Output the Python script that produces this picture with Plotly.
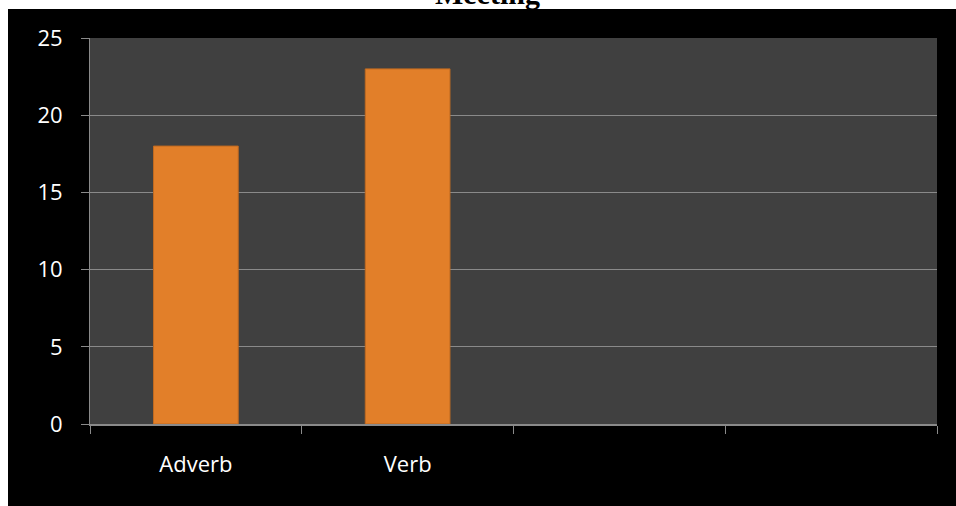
import plotly.graph_objects as go

# Chart data
categories = ["Adverb", "Verb", "", ""]
counts = [18, 23, None, None]
y_ticks = [0, 5, 10, 15, 20, 25]
title_text = "Meeting"

positions = list(range(len(categories)))
boundaries = [p - 0.5 for p in positions] + [positions[-1] + 0.5]

W, H = 956, 506
ML, MR, MT, MB = 90, 19, 38, 82
plot_w = W - ML - MR
plot_h = H - MT - MB


def px_to_paper_x(px):
    return (px - ML) / plot_w


def px_to_paper_y(py):
    return (H - MB - py) / plot_h


axis_grey = "#8a8a8a"
label_font = dict(family="Open Sans, Liberation Sans, sans-serif", size=22, color="white")

fig = go.Figure()
fig.add_trace(go.Bar(
    x=positions,
    y=counts,
    width=0.4,
    marker=dict(color="#E27F29", line=dict(color="#C06A20", width=1)),
    hoverinfo="skip",
))

# white margin strips along the left and top edges of the black canvas
white_strips = [
    dict(x0=px_to_paper_x(-2), x1=px_to_paper_x(8), y0=px_to_paper_y(H + 2), y1=px_to_paper_y(-2)),
    dict(x0=px_to_paper_x(-2), x1=px_to_paper_x(W + 2), y0=px_to_paper_y(9), y1=px_to_paper_y(-2)),
]
shapes = [dict(type="rect", xref="paper", yref="paper", layer="below",
               fillcolor="white", line=dict(width=0), **s) for s in white_strips]

fig.update_layout(
    width=W,
    height=H,
    margin=dict(l=ML, r=MR, t=MT, b=MB, pad=0),
    paper_bgcolor="black",
    plot_bgcolor="#404040",
    showlegend=False,
    xaxis=dict(
        range=[boundaries[0], boundaries[-1]],
        tickmode="array",
        tickvals=positions,
        ticktext=categories,
        ticks="",
        showgrid=False,
        zeroline=False,
        showline=True,
        linecolor=axis_grey,
        linewidth=2,
        tickfont=label_font,
        ticklabelstandoff=20,
        minor=dict(tickmode="array", tickvals=boundaries, ticks="outside",
                   ticklen=8, tickcolor=axis_grey, tickwidth=1, showgrid=False),
        fixedrange=True,
    ),
    yaxis=dict(
        range=[0, 25],
        tickmode="array",
        tickvals=y_ticks,
        ticks="outside",
        ticklen=8,
        tickcolor=axis_grey,
        showgrid=True,
        gridcolor=axis_grey,
        gridwidth=1,
        zeroline=False,
        showline=True,
        linecolor=axis_grey,
        linewidth=1,
        tickfont=label_font,
        ticklabelstandoff=14,
        fixedrange=True,
    ),
    shapes=shapes,
    annotations=[dict(
        text="<b>" + title_text + "</b>",
        xref="paper", yref="paper",
        x=px_to_paper_x(487), y=px_to_paper_y(12),
        xanchor="center", yanchor="bottom", showarrow=False,
        font=dict(family="Liberation Serif, serif", size=30, color="black"),
    )],
)

fig.write_html("out.html")
